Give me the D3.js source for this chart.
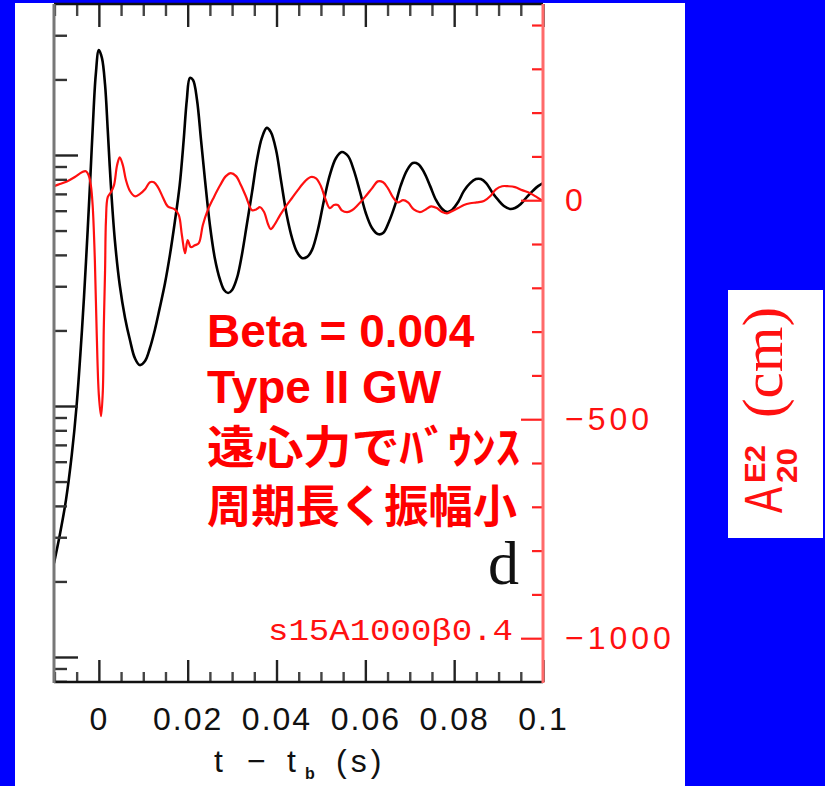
<!DOCTYPE html>
<html><head><meta charset="utf-8">
<script src="https://cdn.jsdelivr.net/npm/d3@7"></script>
<style>body{margin:0;background:#0000ff;} svg{display:block}</style>
</head><body>
<svg id="c" width="825" height="786"></svg>
<script>
// ---- data ----
// black curve: log10 central density (left, log axis) vs t - t_b (s)
const timeBlack = [-0.0101,-0.0088,-0.0074,-0.0061,-0.0050,-0.0038,-0.0029,-0.0020,-0.0014,-0.0007,0,0.0007,0.0014,0.0020,0.0027,0.0036,0.0047,0.0059,0.0070,0.0081,0.0092,0.0104,0.0115,0.0126,0.0137,0.0149,0.0160,0.0171,0.0182,0.0191,0.0198,0.0205,0.0212,0.0221,0.0230,0.0239,0.0250,0.0261,0.0273,0.0282,0.0291,0.0300,0.0311,0.0322,0.0333,0.0345,0.0356,0.0367,0.0378,0.0387,0.0399,0.0410,0.0423,0.0435,0.0446,0.0457,0.0469,0.0480,0.0493,0.0507,0.0520,0.0534,0.0547,0.0561,0.0574,0.0588,0.0601,0.0615,0.0628,0.0640,0.0653,0.0667,0.0680,0.0694,0.0707,0.0719,0.0732,0.0746,0.0759,0.0773,0.0784,0.0795,0.0809,0.0822,0.0836,0.0849,0.0860,0.0872,0.0885,0.0899,0.0912,0.0926,0.0937,0.0950,0.0964,0.0977,0.0989,0.1000];
const logRhoBlack = [12.374,12.486,12.626,12.805,13.004,13.303,13.574,13.880,14.100,14.319,14.418,14.386,14.279,14.100,13.880,13.661,13.482,13.351,13.263,13.191,13.163,13.179,13.231,13.303,13.390,13.490,13.602,13.733,13.880,14.060,14.219,14.307,14.299,14.219,14.060,13.900,13.721,13.590,13.502,13.462,13.450,13.462,13.510,13.602,13.721,13.853,13.980,14.068,14.108,14.092,14.020,13.900,13.761,13.669,13.614,13.590,13.594,13.622,13.701,13.821,13.920,13.988,14.012,13.996,13.940,13.853,13.769,13.709,13.685,13.689,13.733,13.801,13.880,13.940,13.968,13.964,13.932,13.876,13.821,13.785,13.773,13.781,13.813,13.857,13.888,13.904,13.904,13.888,13.853,13.821,13.797,13.785,13.789,13.805,13.833,13.857,13.876,13.888];
// red curve: A^E2_20 (cm) (right axis)
const timeRed = [-0.0101,-0.0088,-0.0072,-0.0054,-0.0038,-0.0029,-0.0023,-0.0018,-0.0014,-0.0009,-0.0005,0,0.0005,0.0009,0.0011,0.0014,0.0016,0.0020,0.0027,0.0034,0.0041,0.0047,0.0054,0.0061,0.0070,0.0081,0.0092,0.0104,0.0115,0.0124,0.0133,0.0144,0.0155,0.0171,0.0180,0.0187,0.0194,0.0200,0.0207,0.0216,0.0225,0.0234,0.0245,0.0259,0.0273,0.0286,0.0297,0.0309,0.0320,0.0331,0.0345,0.0354,0.0363,0.0372,0.0381,0.0387,0.0396,0.0408,0.0421,0.0435,0.0448,0.0464,0.0477,0.0489,0.0500,0.0511,0.0520,0.0529,0.0538,0.0547,0.0559,0.0570,0.0583,0.0599,0.0615,0.0628,0.0640,0.0651,0.0662,0.0673,0.0685,0.0696,0.0709,0.0723,0.0736,0.0748,0.0761,0.0773,0.0784,0.0795,0.0809,0.0822,0.0836,0.0851,0.0867,0.0881,0.0894,0.0908,0.0921,0.0937,0.0953,0.0971,0.0986,0.1000];
const ampRed = [32,37,43,53,64,66,57,34,-11,-137,-297,-445,-493,-434,-297,-160,-46,7,18,34,80,98,80,46,21,9,14,25,41,41,30,7,-14,-21,-34,-80,-121,-91,-107,-103,-98,-57,-23,7,34,55,62,55,34,9,-23,-21,-16,-27,-55,-66,-55,-34,-14,5,23,43,53,50,32,0,-18,-11,-11,-23,-27,-23,-11,7,27,43,41,27,7,-5,0,-5,-21,-27,-21,-14,-18,-27,-30,-25,-18,-11,-7,-5,-2,9,25,32,32,30,23,16,7,-2];
// ticks
const xMajorTicks = [0,0.02,0.04,0.06,0.08,0.1];
const xMinorTicks = [-0.01,-0.005,0.005,0.01,0.015,0.025,0.03,0.035,0.045,0.05,0.055,0.065,0.07,0.075,0.085,0.09,0.095];
const leftDecades = [11,12,13,14];
const rightMajorTicks = [-1000,-500,0];
const rightMinorTicks = [-900,-800,-700,-600,-400,-300,-200,-100,100,200,300,400];
const rightTickLabels = [0,-500,-1000];
// texts
const noteLines = ["Beta = 0.004","Type II GW","遠心力でﾊﾞｳﾝｽ","周期長く振幅小"];
const panelLetter = "d";
const modelName = "s15A1000β0.4";

// ---- drawing ----
const svg = d3.select("#c");
svg.append("rect").attr("width",825).attr("height",786).attr("fill","#0000ff");
svg.append("rect").attr("x",15).attr("y",3).attr("width",670).attr("height",783).attr("fill","#fff");
svg.append("rect").attr("x",728).attr("y",290).attr("width",95).attr("height",248).attr("fill","#fff");

const L=54,R=543,T=4,B=682;
const x = d3.scaleLinear().domain([-0.0101,0.1]).range([L,R]);
const yL = d3.scaleLog().domain([Math.pow(10,11.9004),Math.pow(10,14.6016)]).range([B,T]);
const yR = d3.scaleLinear().domain([-1100,448]).range([B,T]);

svg.append("clipPath").attr("id","clip").append("rect")
  .attr("x",L).attr("y",T).attr("width",R-L).attr("height",B-T);

const lineBlack = d3.line()
  .x(d=>x(d[0])).y(d=>yL(Math.pow(10,d[1]))).curve(d3.curveCatmullRom.alpha(0.5));
const lineRed = d3.line()
  .x(d=>x(d[0])).y(d=>yR(d[1])).curve(d3.curveCatmullRom.alpha(0.5));

const plot = svg.append("g").attr("clip-path","url(#clip)");
plot.append("path").datum(timeBlack.map((t,i)=>[t,logRhoBlack[i]]))
  .attr("d",lineBlack).attr("fill","none").attr("stroke","#000").attr("stroke-width",2.6);
plot.append("path").datum(timeRed.map((t,i)=>[t,ampRed[i]]))
  .attr("d",lineRed).attr("fill","none").attr("stroke","#ff1010").attr("stroke-width",2.2);

function styleAxis(g, color, w){
  g.select(".domain").remove();
  g.selectAll(".tick line").attr("stroke",color).attr("stroke-width",w);
}
// top ticks
svg.append("g").attr("transform",`translate(0,${T})`)
  .call(d3.axisBottom(x).tickValues(xMajorTicks).tickSize(23).tickFormat(""))
  .call(g=>styleAxis(g,"#222",2.4));
svg.append("g").attr("transform",`translate(0,${T})`)
  .call(d3.axisBottom(x).tickValues(xMinorTicks).tickSize(12).tickFormat(""))
  .call(g=>styleAxis(g,"#444",2.4));
// bottom ticks + labels
const bx = svg.append("g").attr("transform",`translate(0,${B})`)
  .call(d3.axisBottom(x).tickValues(xMajorTicks).tickSizeInner(-22).tickSizeOuter(0).tickPadding(25)
        .tickFormat(d=>d===0?"0":String(d)))
  .call(g=>styleAxis(g,"#222",2.4));
bx.attr("font-family","'Liberation Sans', Arial, sans-serif").attr("font-size",32);
bx.selectAll("text").attr("fill","#111").attr("letter-spacing","2px");
svg.append("g").attr("transform",`translate(0,${B})`)
  .call(d3.axisTop(x).tickValues(xMinorTicks).tickSize(10).tickFormat(""))
  .call(g=>styleAxis(g,"#444",2.4));

// left log ticks
const leftMajor=[], leftMinor=[];
const [d0,d1] = yL.domain();
leftDecades.forEach(e=>{
  for(let m=1;m<=9;m++){
    const v=m*Math.pow(10,e);
    if(v>=d0 && v<=d1){ (m===1?leftMajor:leftMinor).push(v); }
  }
});
svg.append("g").attr("transform",`translate(${L},0)`)
  .call(d3.axisRight(yL).tickValues(leftMajor).tickSize(24).tickFormat(""))
  .call(g=>styleAxis(g,"#222",2.4));
svg.append("g").attr("transform",`translate(${L},0)`)
  .call(d3.axisRight(yL).tickValues(leftMinor).tickSize(13).tickFormat(""))
  .call(g=>styleAxis(g,"#333",2.4));

// right red ticks
svg.append("g").attr("transform",`translate(${R},0)`)
  .call(d3.axisLeft(yR).tickValues(rightMajorTicks).tickSize(22).tickFormat(""))
  .call(g=>styleAxis(g,"#ff2020",2.2));
svg.append("g").attr("transform",`translate(${R},0)`)
  .call(d3.axisLeft(yR).tickValues(rightMinorTicks).tickSize(11).tickFormat(""))
  .call(g=>styleAxis(g,"#ff2020",2.2));
const ry = svg.append("g").attr("transform",`translate(${R},0)`)
  .call(d3.axisRight(yR).tickValues(rightTickLabels).tickSize(0).tickPadding(22).tickFormat(d3.format("d")))
  .call(g=>g.select(".domain").remove());
ry.attr("font-family","'Liberation Sans', Arial, sans-serif").attr("font-size",32);
ry.selectAll("text").attr("fill","#ff1010").attr("letter-spacing","4px");

// frame
svg.append("line").attr("x1",L).attr("x2",R).attr("y1",T).attr("y2",T).attr("stroke","#111").attr("stroke-width",2.5);
svg.append("line").attr("x1",L).attr("x2",R).attr("y1",B).attr("y2",B).attr("stroke","#111").attr("stroke-width",2.5);
svg.append("line").attr("x1",L).attr("x2",L).attr("y1",T).attr("y2",B+1).attr("stroke","#777").attr("stroke-width",3);
svg.append("line").attr("x1",R).attr("x2",R).attr("y1",T).attr("y2",B+1).attr("stroke","#ff6a6a").attr("stroke-width",3);

// x title
const xt = svg.append("text").attr("y",772).attr("font-family","'Liberation Sans', Arial, sans-serif")
  .attr("font-size",32).attr("fill","#111");
xt.append("tspan").attr("x",214).text("t");
xt.append("tspan").attr("x",247).text("−");
xt.append("tspan").attr("x",287).text("t");
xt.append("tspan").attr("x",305).attr("dy",7).attr("font-size",16).attr("font-weight","bold").text("b");
xt.append("tspan").attr("x",336).attr("dy",-7).attr("letter-spacing","4px").text("(s)");

// annotation
const noteY = [347,403,464,523];
noteLines.forEach((s,i)=>{
  const t = svg.append("text").attr("x",207).attr("y",noteY[i]).attr("fill","#ff0000")
    .attr("font-weight","bold").text(s);
  if(i<2){ t.attr("font-family","'Liberation Sans', Arial, sans-serif").attr("font-size",46); }
  else { t.attr("font-family","'Noto Sans CJK JP', sans-serif").attr("font-size",45)
           .attr("textLength", i===2?313:310).attr("lengthAdjust","spacingAndGlyphs"); }
});
svg.append("text").attr("x",519).attr("y",584).attr("text-anchor","end")
  .attr("font-family","'Liberation Serif', 'DejaVu Serif', serif").attr("font-size",62).attr("fill","#111").text(panelLetter);
svg.append("text").attr("x",268).attr("y",640)
  .attr("font-family","'Liberation Mono', 'DejaVu Sans Mono', monospace").attr("font-size",30)
  .attr("fill","#ff1010").attr("textLength",245).attr("lengthAdjust","spacingAndGlyphs").text(modelName);

// right rotated label
const lab = svg.append("g").attr("transform","translate(782,513) rotate(-90)").attr("fill","#ff1010");
lab.append("text").attr("x",0).attr("y",0).attr("font-family","'Liberation Sans', Arial, sans-serif")
  .attr("font-size",37).attr("transform","scale(1,1.45)").attr("textLength",26).attr("lengthAdjust","spacingAndGlyphs").text("A");
lab.append("text").attr("x",30).attr("y",-17).attr("font-family","'Liberation Sans', Arial, sans-serif")
  .attr("font-weight","bold").attr("font-size",30).attr("textLength",38).attr("lengthAdjust","spacingAndGlyphs").text("E2");
lab.append("text").attr("x",30).attr("y",15).attr("font-family","'Liberation Sans', Arial, sans-serif")
  .attr("font-weight","bold").attr("font-size",30).attr("textLength",35).attr("lengthAdjust","spacingAndGlyphs").text("20");
lab.append("text").attr("x",95).attr("y",0).attr("font-family","'Liberation Serif', serif")
  .attr("font-size",56).attr("textLength",111).attr("lengthAdjust","spacingAndGlyphs").text("(cm)");
</script>
</body></html>
